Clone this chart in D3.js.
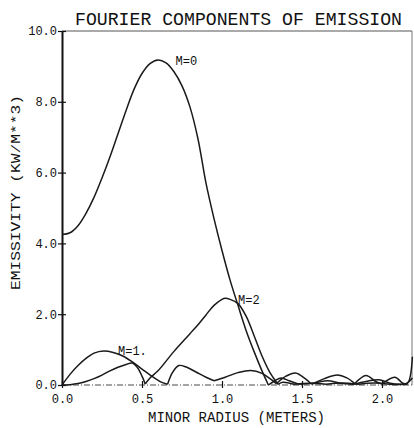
<!DOCTYPE html>
<html>
<head>
<meta charset="utf-8">
<script src="https://cdn.jsdelivr.net/npm/d3@7"></script>
<style>
body { margin: 0; background: #fff; }
text { font-family: "Liberation Mono", "DejaVu Sans Mono", monospace; fill: #111; }
</style>
</head>
<body>
<div id="chart"></div>
<script>
// Set width and height
var svgWidth = 414;
var svgHeight = 428;

// Tick values for both axes.
var xTicks = [0.0, 0.5, 1.0, 1.5, 2.0];
var yTicks = [0, 2, 4, 6, 8, 10];

// M=0 component (minor radius in meters, emissivity in KW/M**3).
var m0Radius = [0, 0.05, 0.1, 0.15, 0.2, 0.25, 0.3, 0.35, 0.4, 0.45, 0.5, 0.55, 0.6, 0.65, 0.7, 0.75, 0.8, 0.85, 0.9, 0.95, 1.0, 1.05, 1.1, 1.15, 1.2, 1.25, 1.29,
    1.33, 1.37, 1.42, 1.48, 1.58, 1.66, 1.74, 1.82, 1.9, 1.98, 2.05, 2.12, 2.16, 2.19];
var m0Values = [4.25, 4.3, 4.5, 4.85, 5.3, 5.85, 6.45, 7.1, 7.75, 8.35, 8.8, 9.08, 9.18, 9.1, 8.85, 8.45, 7.85, 6.95, 5.7, 4.7, 3.8, 2.97, 2.25, 1.55, 0.95, 0.4, 0.0,
    0.12, 0.2, 0.12, 0.02, 0.06, 0.12, 0.05, 0.02, 0.1, 0.15, 0.05, 0.02, 0.05, 0.8];

// M=1 component.
var m1Radius = [0, 0.05, 0.1, 0.15, 0.2, 0.26, 0.32, 0.38, 0.44, 0.5, 0.56, 0.62, 0.66, 0.69, 0.73, 0.78, 0.84, 0.9, 0.95, 1.02, 1.1, 1.18, 1.25, 1.3, 1.34,
    1.4, 1.46, 1.52, 1.56, 1.64, 1.72, 1.78, 1.83, 1.9, 1.96, 2.0, 2.08, 2.13, 2.16];
var m1Values = [0, 0.3, 0.55, 0.75, 0.9, 0.96, 0.92, 0.82, 0.65, 0.45, 0.25, 0.08, 0.02, 0.35, 0.55, 0.5, 0.36, 0.22, 0.12, 0.22, 0.35, 0.41, 0.33, 0.18, 0.04,
    0.25, 0.34, 0.18, 0.02, 0.18, 0.28, 0.2, 0.04, 0.27, 0.1, 0.03, 0.22, 0.05, 0.02];

// M=2 component.
var m2Radius = [0, 0.05, 0.1, 0.15, 0.2, 0.25, 0.3, 0.35, 0.4, 0.44, 0.47, 0.5, 0.52, 0.55, 0.6, 0.7, 0.8, 0.85, 0.9, 0.95, 1.0, 1.02, 1.05, 1.1, 1.15, 1.2, 1.25, 1.3, 1.35,
    1.38, 1.45, 1.55, 1.65, 1.75, 1.85, 1.95, 2.05, 2.15, 2.19];
var m2Values = [0, 0.01, 0.04, 0.1, 0.18, 0.28, 0.4, 0.5, 0.58, 0.62, 0.5, 0.25, 0.03, 0.2, 0.4, 0.95, 1.45, 1.7, 1.98, 2.25, 2.42, 2.45, 2.42, 2.3, 1.95, 1.4, 0.82, 0.35, 0.02,
    0.08, 0.02, 0.05, 0.02, 0.06, 0.02, 0.06, 0.02, 0.04, 0.2];

var seriesNames = ["M=0", "M=1.", "M=2"];

// Define margins.
var margin = { top: 31, right: 2, bottom: 43, left: 62 };
var chartWidth = svgWidth - margin.left - margin.right;
var chartHeight = svgHeight - margin.top - margin.bottom;

var svg = d3.select("#chart")
    .append("svg")
    .attr("width", svgWidth)
    .attr("height", svgHeight)
    .style("background", "#fff");

var chartGroup = svg.append("g")
    .attr("transform", `translate(${margin.left}, ${margin.top})`);

// Create x and y linear scales.
var xLinearScale = d3.scaleLinear()
    .domain([0, 2.1875])
    .range([0, chartWidth]);
var yLinearScale = d3.scaleLinear()
    .domain([0, 10])
    .range([chartHeight, 0]);

// Frame: thin top and right borders, dash-dot zero line.
chartGroup.append("line")
    .attr("x1", 0).attr("x2", chartWidth)
    .attr("y1", 0).attr("y2", 0)
    .attr("stroke", "#555").attr("stroke-width", 1);
chartGroup.append("line")
    .attr("x1", chartWidth).attr("x2", chartWidth)
    .attr("y1", 0).attr("y2", chartHeight)
    .attr("stroke", "#777").attr("stroke-width", 1);
chartGroup.append("line")
    .attr("x1", 0).attr("x2", chartWidth)
    .attr("y1", chartHeight).attr("y2", chartHeight)
    .attr("stroke", "#333").attr("stroke-width", 0.9)
    .attr("stroke-dasharray", "6,2,1,2");

// Left axis with crossing ticks.
var leftAxis = d3.axisLeft(yLinearScale)
    .tickValues(yTicks)
    .tickSizeInner(4)
    .tickSizeOuter(0)
    .tickFormat(d3.format(".1f"));
var yAxis = chartGroup.append("g").call(leftAxis);
yAxis.select(".domain").attr("stroke", "#111").attr("stroke-width", 2);
yAxis.selectAll(".tick line").attr("x2", 4).attr("x1", -4).attr("stroke", "#111").attr("stroke-width", 1.2);
yAxis.selectAll(".tick text")
    .attr("x", -5)
    .style("font-size", "12px")
    .style("font-family", "'Liberation Mono', 'DejaVu Sans Mono', monospace")
    .attr("fill", "#111");

// Bottom axis ticks and labels (the axis line itself is the dash-dot line).
var bottomAxis = d3.axisBottom(xLinearScale)
    .tickValues(xTicks)
    .tickSizeInner(3)
    .tickSizeOuter(0)
    .tickFormat(d3.format(".1f"));
var xAxis = chartGroup.append("g")
    .attr("transform", `translate(0, ${chartHeight})`)
    .call(bottomAxis);
xAxis.select(".domain").remove();
xAxis.selectAll(".tick line").attr("y1", -4).attr("y2", 3).attr("stroke", "#111").attr("stroke-width", 1.2);
xAxis.selectAll(".tick text")
    .attr("y", 9)
    .style("font-size", "12px")
    .style("font-family", "'Liberation Mono', 'DejaVu Sans Mono', monospace")
    .attr("fill", "#111");

// Split a curve into lobes at its cusps (local minima).
function toLobes(radius, values) {
    var pts = radius.map((r, i) => [r, values[i]]);
    var lobes = [];
    var current = [pts[0]];
    for (var i = 1; i < pts.length; i++) {
        current.push(pts[i]);
        if (i < pts.length - 1 && pts[i][1] < pts[i - 1][1] && pts[i][1] <= pts[i + 1][1]) {
            lobes.push(current);
            current = [pts[i]];
        }
    }
    lobes.push(current);
    return lobes;
}

var line = d3.line()
    .x(d => xLinearScale(d[0]))
    .y(d => yLinearScale(d[1]))
    .curve(d3.curveCatmullRom.alpha(0.5));

var series = [[m0Radius, m0Values], [m1Radius, m1Values], [m2Radius, m2Values]];
series.forEach(function(s) {
    chartGroup.append("g")
        .selectAll("path")
        .data(toLobes(s[0], s[1]))
        .enter()
        .append("path")
        .attr("d", line)
        .attr("fill", "none")
        .attr("stroke", "#1a1a1a")
        .attr("stroke-width", 1.5)
        .attr("stroke-linejoin", "round");
});

// Curve labels next to each maximum.
var labelAt = [[0.71, 9.05], [0.35, 0.85], [1.1, 2.3]];
chartGroup.selectAll(".curveLabel")
    .data(seriesNames)
    .enter()
    .append("text")
    .attr("class", "curveLabel")
    .attr("x", (d, i) => xLinearScale(labelAt[i][0]))
    .attr("y", (d, i) => yLinearScale(labelAt[i][1]))
    .style("font-size", "12px")
    .text(d => d);

// Title and axis titles.
svg.append("text")
    .attr("x", 75)
    .attr("y", 25)
    .attr("textLength", 327)
    .attr("lengthAdjust", "spacingAndGlyphs")
    .style("font-size", "18px")
    .text("FOURIER COMPONENTS OF EMISSION");

svg.append("text")
    .attr("x", 148)
    .attr("y", 422)
    .attr("textLength", 177)
    .attr("lengthAdjust", "spacingAndGlyphs")
    .style("font-size", "14px")
    .text("MINOR RADIUS (METERS)");

svg.append("text")
    .attr("transform", "translate(20, 290) rotate(-90)")
    .attr("x", 0)
    .attr("y", 0)
    .attr("textLength", 195)
    .attr("lengthAdjust", "spacingAndGlyphs")
    .style("font-size", "13px")
    .text("EMISSIVITY (KW/M**3)");
</script>
</body>
</html>
